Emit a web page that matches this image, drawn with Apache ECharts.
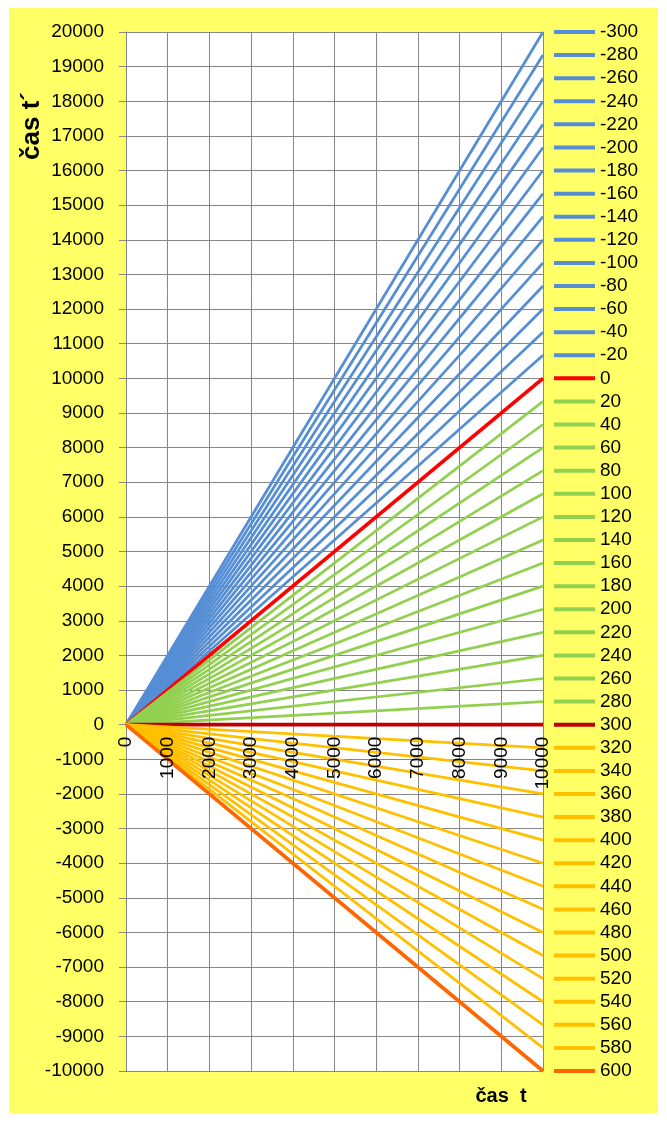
<!DOCTYPE html>
<html>
<head>
<meta charset="utf-8">
<script src="https://cdn.jsdelivr.net/npm/echarts@6/dist/echarts.min.js"></script>
<style>
html,body{margin:0;padding:0;background:#ffffff;}
#chart{width:667px;height:1122px;}
</style>
</head>
<body>
<div id="chart"></div>
<script>
// Series names (legend labels)
const seriesNames = ["-300","-280","-260","-240","-220","-200","-180","-160","-140","-120","-100","-80","-60","-40","-20","0",
  "20","40","60","80","100","120","140","160","180","200","220","240","260","280","300",
  "320","340","360","380","400","420","440","460","480","500","520","540","560","580","600"];
// Line start (t, t') and end t
const tStart = 0;
const tPrimeStart = 0;
const tEnd = 10000;
// t' value at t = 10000 for each series
const tPrimeEnd = [20000,19333,18667,18000,17333,16667,16000,15333,14667,14000,13333,12667,12000,11333,10667,10000,
  9333,8667,8000,7333,6667,6000,5333,4667,4000,3333,2667,2000,1333,667,0,
  -667,-1333,-2000,-2667,-3333,-4000,-4667,-5333,-6000,-6667,-7333,-8000,-8667,-9333,-10000];
// Axis ranges
const xRange = [0, 10000, 1000];
const yRange = [-10000, 20000, 1000];
// Axis titles
const xTitle = "čas  t";
const yTitle = "čas t´";

function styleFor(name){
  const v = Number(name);
  if (v === 0) return {color:'#FF0000', width:3.75};
  if (v === 300) return {color:'#C00000', width:3.75};
  if (v === 600) return {color:'#FF6600', width:3.75};
  if (v < 0) return {color:'#558ED5', width:2.75};
  if (v < 300) return {color:'#92D050', width:2.75};
  return {color:'#FFC000', width:2.75};
}

const series = seriesNames.map((name, i) => {
  const s = styleFor(name);
  return {
    name: name,
    type: 'line',
    symbol: 'none',
    silent: true,
    xAxisIndex: 0,
    yAxisIndex: 0,
    color: s.color,
    lineStyle: {color: s.color, width: s.width},
    data: [[tStart, tPrimeStart], [tEnd, tPrimeEnd[i]]]
  };
});

const gridTop = 32, gridBottom = 51, H = 1122;
const plotH = H - gridTop - gridBottom;
const zeroFromBottom = plotH * (0 - yRange[0]) / (yRange[1] - yRange[0]);
const FS = 19;

const chart = echarts.init(document.getElementById('chart'), null, {renderer:'canvas'});
chart.setOption({
  animation: false,
  backgroundColor: '#ffffff',
  textStyle: {fontFamily: 'Liberation Sans'},
  graphic: [
    {type:'rect', z:-10, zlevel:0, shape:{x:9, y:8, width:649, height:1105}, style:{fill:'#FFFF66'}, silent:true},
    {type:'text', x:32, y:126, rotation:Math.PI/2, z:10,
      style:{text:yTitle, font:'bold 26px "Liberation Sans"', fill:'#000', align:'center', verticalAlign:'middle'}},
    {type:'text', x:501, y:1096, z:10,
      style:{text:xTitle, font:'bold 20px "Liberation Sans"', fill:'#000', align:'center', verticalAlign:'middle'}}
  ],
  grid: {left:126, right:124, top:gridTop, bottom:gridBottom, show:true, backgroundColor:'#ffffff', borderWidth:0, containLabel:false},
  legend: {
    orient: 'vertical',
    left: 552,
    top: 22,
    padding: 0,
    itemWidth: 41,
    itemHeight: 20,
    itemGap: 3.09,
    selectedMode: false,
    itemStyle: {opacity: 0},
    lineStyle: {width: 4},
    textStyle: {fontSize:FS, lineHeight:20, color:'#000', fontFamily:'Liberation Sans'},
    data: seriesNames
  },
  xAxis: [{
    type: 'value',
    position: 'bottom',
    min: xRange[0], max: xRange[1], interval: xRange[2],
    z: 0,
    axisLine: {show:false},
    axisTick: {show:false},
    axisLabel: {show:false},
    splitLine: {show:true, lineStyle:{color:'#868686', width:1}}
  }, {
    type: 'value',
    position: 'bottom',
    min: xRange[0], max: xRange[1], interval: xRange[2],
    z: 10,
    offset: -zeroFromBottom,
    axisLine: {show:false, onZero:false},
    axisTick: {show:false},
    splitLine: {show:false},
    axisLabel: {rotate:90, margin:12, fontSize:FS, color:'#000', fontFamily:'Liberation Sans', formatter: v => String(v)}
  }],
  yAxis: {
    type: 'value',
    min: yRange[0], max: yRange[1], interval: yRange[2],
    axisLine: {show:true, onZero:false, lineStyle:{color:'#868686', width:1}},
    axisTick: {show:true, length:7, lineStyle:{color:'#868686'}},
    splitLine: {show:true, lineStyle:{color:'#868686', width:1}},
    axisLabel: {margin:22, fontSize:FS, color:'#000', fontFamily:'Liberation Sans', formatter: v => String(v)}
  },
  series: series
});
</script>
</body>
</html>
